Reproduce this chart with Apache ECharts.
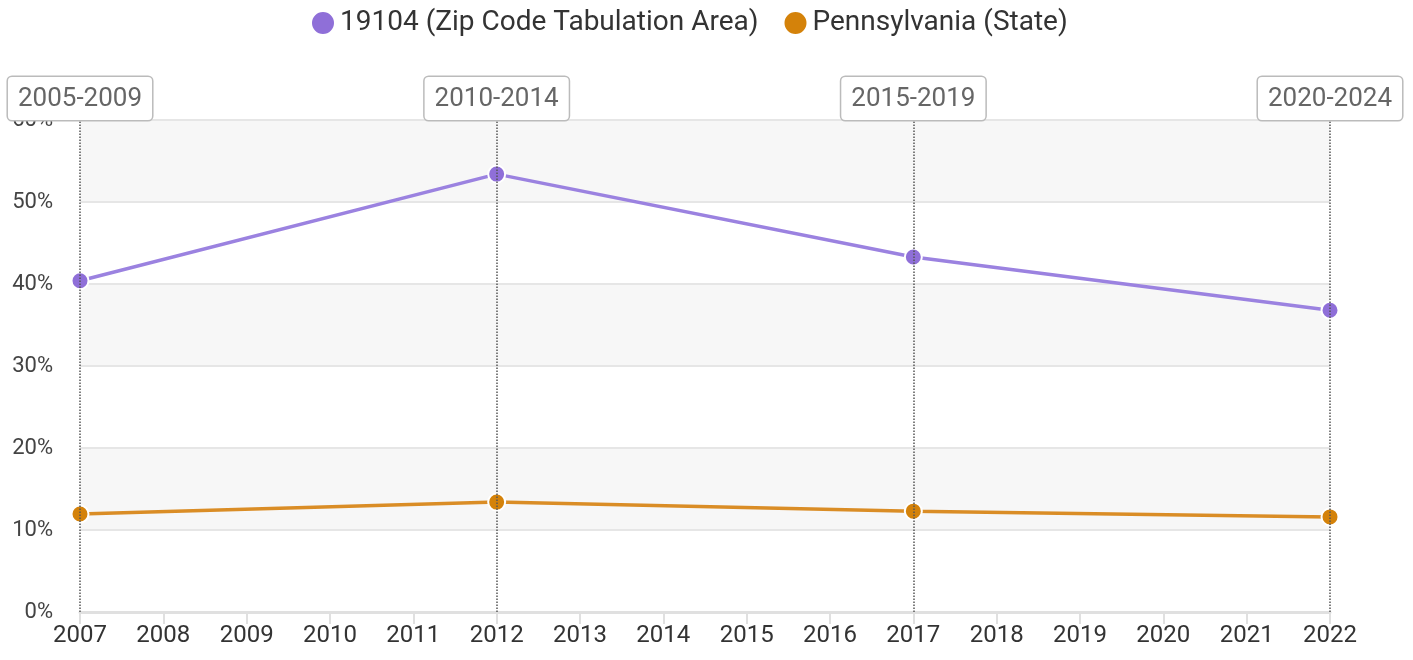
<!DOCTYPE html>
<html>
<head>
<meta charset="utf-8">
<script src="https://cdn.jsdelivr.net/npm/echarts@6/dist/echarts.min.js"></script>
<style>
    html, body { margin: 0; padding: 0; background: #fff; }
    #chart { width: 1413px; height: 660px; }
</style>
</head>
<body>
<div id="chart"></div>
<script>
    // years on the x axis and the survey periods they stand for
    const years = [2007, 2012, 2017, 2022];
    const periods = ['2005-2009', '2010-2014', '2015-2019', '2020-2024'];
    const zipValues = [40.4, 53.4, 43.3, 36.8];
    const stateValues = [11.95, 13.4, 12.3, 11.6];
    const seriesNames = ['19104 (Zip Code Tabulation Area)', 'Pennsylvania (State)'];

    const chart = echarts.init(document.getElementById('chart'));

    const toPairs = (vals) => vals.map((v, i) => [years[i], v]);

    const option = {
        animation: false,
        textStyle: { fontFamily: 'Roboto' },
        legend: {
            top: 4,
            left: 305,
            icon: 'circle',
            itemWidth: 24,
            itemHeight: 24,
            itemGap: 24,
            textStyle: { fontSize: 28, color: '#333', padding: [0, 0, 0, 0] },
            data: seriesNames
        },
        grid: {
            left: 80,
            right: 83,
            top: 120,
            bottom: 48
        },
        xAxis: {
            type: 'value',
            min: 2007,
            max: 2022,
            interval: 1,
            axisLine: { show: true, lineStyle: { color: '#e0e0e0', width: 3 } },
            axisTick: { show: true, length: 12, lineStyle: { color: '#e0e0e0', width: 2 } },
            axisLabel: {
                fontSize: 24,
                color: '#333',
                margin: 12,
                formatter: (v) => String(v)
            },
            splitLine: { show: false }
        },
        yAxis: {
            type: 'value',
            min: 0,
            max: 60,
            interval: 10,
            axisLine: { show: false },
            axisTick: { show: false },
            axisLabel: {
                fontSize: 22,
                color: '#444',
                margin: 27,
                formatter: '{value}%'
            },
            splitLine: { lineStyle: { color: '#e6e6e6', width: 2 } },
            splitArea: {
                show: true,
                areaStyle: { color: ['rgba(255,255,255,0)', '#f7f7f7'] }
            }
        },
        series: [
            {
                name: seriesNames[0],
                type: 'line',
                data: toPairs(zipValues),
                color: '#8f6fd8',
                lineStyle: { color: '#9b82e0', width: 3.5 },
                symbol: 'circle',
                symbolSize: 17,
                itemStyle: { color: '#8f6fd8', borderColor: '#fff', borderWidth: 2 },
                z: 3,
                markLine: {
                    silent: true,
                    symbol: 'none',
                    lineStyle: { color: '#555', width: 1.5, type: 'dotted' },
                    label: {
                        show: true,
                        position: 'end',
                        distance: 0,
                        fontSize: 26,
                        color: '#666',
                        backgroundColor: '#fff',
                        borderColor: '#bbb',
                        borderWidth: 1.5,
                        borderRadius: 4,
                        padding: [9, 10, 8, 10],
                        formatter: (p) => periods[years.indexOf(p.value)]
                    },
                    data: years.map((y) => ({ xAxis: y }))
                }
            },
            {
                name: seriesNames[1],
                type: 'line',
                data: toPairs(stateValues),
                color: '#d4820a',
                lineStyle: { color: '#da8d26', width: 3.5 },
                symbol: 'circle',
                symbolSize: 17,
                itemStyle: { color: '#d4820a', borderColor: '#fff', borderWidth: 2 },
                z: 3
            }
        ]
    };

    chart.setOption(option);
</script>
</body>
</html>
